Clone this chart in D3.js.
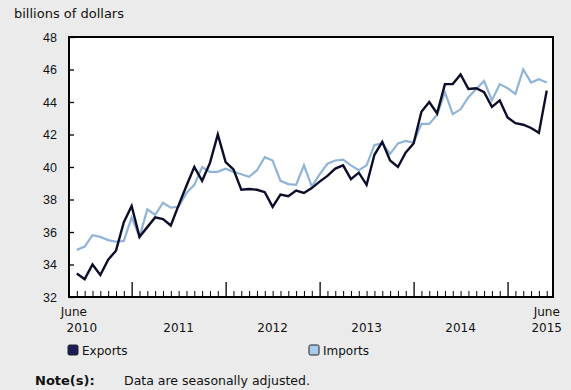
<!DOCTYPE html>
<html>
<head>
<meta charset="utf-8">
<script src="https://cdn.jsdelivr.net/npm/d3@7"></script>
<style>
  body { margin: 0; background: #ebebeb; }
  svg { display: block; font-family: "DejaVu Sans", Verdana, sans-serif; }
</style>
</head>
<body>
<div id="chart"></div>
<script>
// 月次データ June 2010 - June 2015
const exportsData = [
    33.45, 33.1, 34.0, 33.35, 34.3, 34.85, 36.6, 37.6, 35.7, 36.3, 36.9, 36.8,
    36.4, 37.65, 38.85, 40.0, 39.15, 40.25, 42.0, 40.3, 39.85, 38.6, 38.65, 38.6,
    38.45, 37.55, 38.3, 38.2, 38.55, 38.4, 38.7, 39.1, 39.45, 39.9, 40.1, 39.25,
    39.65, 38.9, 40.75, 41.55, 40.4, 40.0, 40.9, 41.45, 43.4, 44.0, 43.3, 45.1,
    45.1, 45.7, 44.8, 44.85, 44.6, 43.7, 44.1, 43.05, 42.7, 42.6, 42.4, 42.1,
    44.7
];
const importsData = [
    34.9, 35.1, 35.8, 35.7, 35.5, 35.4, 35.45, 36.9, 35.7, 37.4, 37.05, 37.8,
    37.5, 37.55, 38.4, 38.9, 40.0, 39.7, 39.7, 39.9, 39.7, 39.55, 39.4, 39.8,
    40.6, 40.4, 39.15, 38.95, 38.9, 40.1, 38.8, 39.55, 40.2, 40.4, 40.45, 40.1,
    39.8, 40.1, 41.35, 41.45, 40.8, 41.45, 41.6, 41.5, 42.65, 42.65, 43.2, 44.6,
    43.25, 43.55, 44.3, 44.8, 45.3, 44.1, 45.1, 44.85, 44.5, 46.0, 45.2, 45.4,
    45.2
];
const yTicks = [32, 34, 36, 38, 40, 42, 44, 46, 48];
const yearLabels = ['2011', '2012', '2013', '2014'];
const yearStartIdx = [7, 19, 31, 43, 55]; // January indices
const seriesNames = ['Exports', 'Imports'];

const width = 571;
const height = 390;
const plot = { left: 69, right: 553, top: 37, bottom: 297 };

const svg = d3.select('#chart')
    .append('svg')
    .attr('width', width)
    .attr('height', height);

const x = d3.scaleLinear()
    .domain([-1, 60.8])
    .range([plot.left, plot.right]);
const y = d3.scaleLinear()
    .domain([32, 48])
    .range([plot.bottom, plot.top]);

// プロット領域
svg.append('rect')
    .attr('x', plot.left)
    .attr('y', plot.top)
    .attr('width', plot.right - plot.left)
    .attr('height', plot.bottom - plot.top)
    .attr('fill', '#fff');

// タイトル
svg.append('text')
    .attr('x', 14)
    .attr('y', 18)
    .style('font-size', '13px')
    .attr('fill', '#111')
    .text('billions of dollars');

// y軸
const yAxis = d3.axisLeft(y)
    .tickValues(yTicks)
    .tickSize(-5)
    .tickPadding(12)
    .tickFormat(d3.format('d'));
const yg = svg.append('g')
    .attr('transform', `translate(${plot.left},0)`)
    .call(yAxis);
yg.select('.domain').remove();
yg.selectAll('line').attr('stroke', '#000').attr('stroke-width', 1.3);
yg.selectAll('text')
    .style('font-size', '12.5px')
    .attr('fill', '#111');

// x軸の目盛り（内向き）
const months = d3.range(0, 61);
const xAxisMinor = d3.axisBottom(x)
    .tickValues(months.filter(i => !yearStartIdx.includes(i)))
    .tickSize(-6)
    .tickFormat('');
const xg = svg.append('g')
    .attr('transform', `translate(0,${plot.bottom})`)
    .call(xAxisMinor);
xg.select('.domain').remove();
xg.selectAll('line').attr('stroke', '#000').attr('stroke-width', 1);

const xAxisMajor = d3.axisBottom(x)
    .tickValues(yearStartIdx)
    .tickSize(-15)
    .tickFormat('');
const xg2 = svg.append('g')
    .attr('transform', `translate(0,${plot.bottom})`)
    .call(xAxisMajor);
xg2.select('.domain').remove();
xg2.selectAll('line').attr('stroke', '#000').attr('stroke-width', 1.3);

// 年ラベル
svg.append('g')
    .selectAll('text')
    .data(yearLabels)
    .enter()
    .append('text')
    .attr('x', (d, i) => (x(yearStartIdx[i]) + x(yearStartIdx[i + 1])) / 2)
    .attr('y', 332)
    .attr('text-anchor', 'middle')
    .style('font-size', '12px')
    .attr('fill', '#111')
    .text(d => d);

const endLabels = [
    { idx: 0, month: 'June', year: '2010' },
    { idx: 60, month: 'June', year: '2015' }
];
endLabels.forEach(d => {
    const g = svg.append('g');
    g.append('text')
        .attr('x', d.idx === 0 ? x(d.idx) - 3 : x(d.idx))
        .attr('y', 316)
        .attr('text-anchor', 'middle')
        .style('font-size', '12px')
        .attr('fill', '#111')
        .text(d.month);
    g.append('text')
        .attr('x', d.idx === 0 ? x(d.idx) + 5 : x(d.idx))
        .attr('y', 332)
        .attr('text-anchor', 'middle')
        .style('font-size', '12px')
        .attr('fill', '#111')
        .text(d.year);
});

// 折れ線
const line = d3.line()
    .x((d, i) => x(i))
    .y(d => y(d));

svg.append('path')
    .datum(importsData)
    .attr('fill', 'none')
    .attr('stroke', '#8fb4d8')
    .attr('stroke-width', 2.2)
    .attr('stroke-linejoin', 'miter')
    .attr('d', line);

svg.append('path')
    .datum(exportsData)
    .attr('fill', 'none')
    .attr('stroke', '#0c0d2b')
    .attr('stroke-width', 2.4)
    .attr('stroke-linejoin', 'miter')
    .attr('d', line);

// 枠線
svg.append('rect')
    .attr('x', plot.left)
    .attr('y', plot.top)
    .attr('width', plot.right - plot.left)
    .attr('height', plot.bottom - plot.top)
    .attr('fill', 'none')
    .attr('stroke', '#000')
    .attr('stroke-width', 2);

// 凡例
const legendColors = ['#1b1c58', '#a9cbee'];
const legendX = [68, 309];
const legend = svg.append('g')
    .selectAll('g')
    .data(seriesNames)
    .enter()
    .append('g')
    .attr('transform', (d, i) => `translate(${legendX[i]},345)`);
legend.append('rect')
    .attr('width', 10)
    .attr('height', 10)
    .attr('rx', 1.5)
    .attr('fill', (d, i) => legendColors[i])
    .attr('stroke', '#222')
    .attr('stroke-width', 1);
legend.append('text')
    .attr('x', 14)
    .attr('y', 10)
    .style('font-size', '12px')
    .attr('fill', '#111')
    .text(d => d);

// 注記
svg.append('text')
    .attr('x', 35)
    .attr('y', 385)
    .style('font-size', '13px')
    .style('font-weight', 'bold')
    .attr('fill', '#111')
    .text('Note(s):');
svg.append('text')
    .attr('x', 124)
    .attr('y', 385)
    .style('font-size', '12.5px')
    .attr('fill', '#111')
    .text('Data are seasonally adjusted.');
</script>
</body>
</html>
